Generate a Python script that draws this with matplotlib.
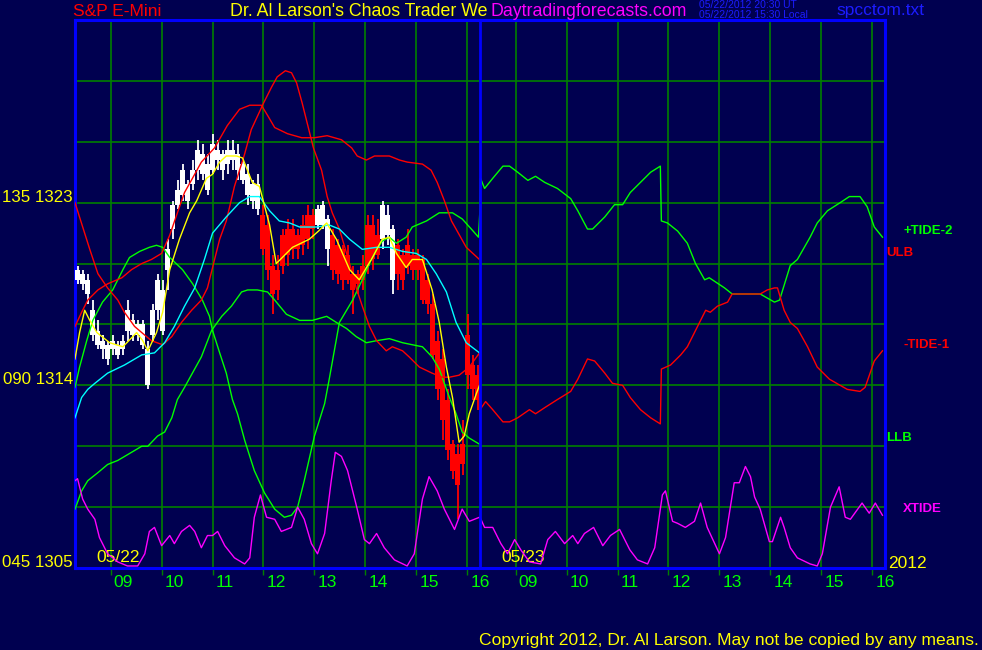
"""S&P E-Mini tide chart (Chaos Trader, 05/22-05/23/2012): 6-min bars for day 1,
price averages, upper/lower bands, two tide curves and the XTIDE cycle curve."""

import matplotlib
matplotlib.use("Agg")
import matplotlib.pyplot as plt
import numpy as np

# Palette.
BG = "#000050"; GRID = "#008000"; FRAME = "#0000ff"
GREEN = "#00ff00"; RED = "#ff0000"; CYAN = "#00ffff"
YELLOW = "#ffff00"; MAGENTA = "#ff00ff"; WHITE = "#ffffff"; BLUE_TXT = "#1c1cff"
plt.rcParams["font.family"] = ["Liberation Sans", "DejaVu Sans"]

W, H = 982, 650                  # output size, px
SESSION_OPEN = 8.30              # clock hour at the left edge of each day panel
SESSION_LEN = 7.95               # hours shown per day
PRICE_LO, PRICE_HI, PRICE_STEP = 1305, 1332, 3

HOURS = [9, 10, 11, 12, 13, 14, 15, 16]
DAYS = ["05/22", "05/23"]
YEAR = "2012"
ANGLES = ["045", "090", "135"]
ANGLE_PRICES = [1305, 1314, 1323]

# ---- day-1 price bars (open, high, low, close), evenly spaced over the session
BAR_OPEN = [1319.2, 1319.0, 1318.5, 1316.5, 1316.0, 1315.8, 1315.3, 1315.8, 1315.5, 1315.8,
            1316.7, 1316.5, 1316.5, 1316.0, 1314.0, 1316.5, 1317.7, 1316.7, 1319.7, 1321.7,
            1322.9, 1323.4, 1323.1, 1323.9, 1324.6, 1324.4, 1323.6, 1324.6, 1325.1, 1324.6,
            1324.9, 1325.1, 1324.6, 1324.1, 1323.4, 1323.1, 1322.7, 1322.4, 1321.9, 1319.9,
            1319.7, 1321.4, 1321.7, 1321.7, 1321.4, 1321.9, 1322.4, 1322.4, 1321.9, 1321.9,
            1320.7, 1321.4, 1320.9, 1320.7, 1320.4, 1319.5, 1319.5, 1319.9, 1321.9, 1321.9,
            1321.4, 1321.2, 1321.4, 1319.2, 1320.9, 1320.4, 1320.9, 1320.4, 1320.4, 1320.2,
            1319.2, 1318.0, 1316.2, 1315.3, 1313.3, 1311.1, 1310.6, 1311.1, 1316.5, 1315.0,
            1314.5]
BAR_HIGH = [1319.9, 1319.7, 1319.5, 1318.2, 1317.2, 1316.5, 1316.2, 1316.5, 1316.2, 1316.5,
            1318.2, 1317.5, 1317.2, 1317.2, 1316.2, 1318.0, 1319.5, 1319.2, 1321.2, 1323.1,
            1324.1, 1324.9, 1324.1, 1325.1, 1326.1, 1325.9, 1325.4, 1326.4, 1326.1, 1325.6,
            1326.1, 1326.1, 1325.9, 1325.1, 1324.9, 1324.1, 1324.4, 1322.9, 1322.4, 1320.4,
            1320.4, 1321.7, 1322.2, 1322.2, 1321.7, 1322.4, 1322.9, 1322.7, 1322.9, 1323.1,
            1322.4, 1321.7, 1321.2, 1320.9, 1320.9, 1319.9, 1319.7, 1320.4, 1322.4, 1322.4,
            1322.2, 1323.1, 1322.9, 1321.9, 1321.2, 1320.7, 1321.7, 1320.7, 1320.7, 1320.4,
            1319.5, 1318.5, 1316.7, 1315.8, 1313.8, 1311.3, 1311.1, 1312.3, 1317.5, 1315.5,
            1315.0]
BAR_LOW = [1319.0, 1318.7, 1318.0, 1316.2, 1315.8, 1315.3, 1315.0, 1315.5, 1315.3, 1315.5,
           1316.2, 1316.2, 1316.2, 1315.8, 1313.8, 1316.2, 1317.2, 1316.5, 1318.7, 1321.2,
           1322.7, 1323.1, 1322.7, 1323.6, 1324.1, 1324.1, 1323.4, 1324.4, 1324.6, 1324.1,
           1324.4, 1324.6, 1324.1, 1323.9, 1322.9, 1322.7, 1322.4, 1320.4, 1319.2, 1317.5,
           1318.2, 1319.5, 1319.9, 1320.2, 1320.2, 1320.4, 1320.7, 1321.2, 1321.7, 1321.7,
           1319.9, 1319.2, 1319.0, 1318.7, 1319.0, 1317.5, 1318.5, 1318.7, 1319.5, 1319.7,
           1320.2, 1320.7, 1320.9, 1318.5, 1318.7, 1318.7, 1319.5, 1319.2, 1319.2, 1318.0,
           1317.5, 1315.3, 1313.3, 1311.3, 1310.3, 1309.4, 1307.4, 1309.6, 1313.8, 1313.3,
           1312.8]
BAR_CLOSE = [1319.7, 1319.5, 1319.2, 1317.7, 1316.7, 1316.2, 1316.0, 1316.2, 1316.0, 1316.2,
             1317.7, 1317.2, 1317.0, 1317.0, 1315.8, 1317.7, 1319.2, 1318.7, 1320.7, 1322.9,
             1323.6, 1324.6, 1323.9, 1324.6, 1325.6, 1325.4, 1324.9, 1325.9, 1325.6, 1325.4,
             1325.6, 1325.6, 1325.4, 1324.9, 1324.4, 1323.9, 1323.9, 1320.7, 1319.7, 1318.5,
             1318.7, 1319.9, 1320.4, 1320.7, 1320.7, 1320.9, 1321.2, 1321.7, 1322.7, 1322.9,
             1322.2, 1319.7, 1319.5, 1319.2, 1319.2, 1318.7, 1319.0, 1319.2, 1319.9, 1320.2,
             1320.4, 1322.9, 1322.4, 1321.7, 1319.5, 1319.2, 1319.9, 1319.7, 1319.7, 1318.2,
             1318.0, 1315.5, 1313.8, 1312.3, 1310.8, 1309.8, 1309.1, 1310.1, 1314.5, 1313.8,
             1313.3]

# ---- day-1 moving averages (clock hour, price)
FAST_T = [8.30, 8.39, 8.49, 8.59, 8.73, 8.98, 9.24, 9.51, 9.63, 9.73, 9.90, 10.02, 10.16,
          10.35, 10.55, 10.69, 10.88, 11.00, 11.14, 11.27, 11.47, 11.59, 11.78, 11.92, 12.12,
          12.25, 12.37, 12.57, 12.90, 13.08, 13.24, 13.43, 13.69, 13.88, 14.02, 14.14, 14.33,
          14.47, 14.61, 14.80, 14.92, 15.12, 15.31, 15.45, 15.59, 15.71, 15.84, 15.94, 16.04,
          16.18, 16.24]
FAST_V = [1315.3, 1316.6, 1317.7, 1317.2, 1316.6, 1316.1, 1315.9, 1316.6, 1316.2, 1315.7,
          1316.6, 1317.6, 1319.7, 1321.2, 1322.5, 1323.1, 1324.2, 1324.4, 1325.0, 1325.3,
          1325.3, 1325.2, 1324.0, 1323.8, 1321.9, 1320.0, 1320.3, 1320.8, 1321.2, 1321.6,
          1322.0, 1321.2, 1319.7, 1319.2, 1319.8, 1320.3, 1321.2, 1321.3, 1320.5, 1319.8,
          1320.2, 1320.2, 1318.7, 1317.1, 1314.9, 1313.4, 1311.2, 1311.5, 1312.6, 1313.6,
          1314.0]
SLOW_T = [8.30, 8.43, 8.55, 8.69, 8.94, 9.27, 9.61, 9.86, 10.06, 10.25, 10.45, 10.65, 10.84,
          11.00, 11.27, 11.53, 11.73, 11.92, 12.12, 12.31, 12.51, 12.71, 13.04, 13.29, 13.49,
          13.69, 13.94, 14.22, 14.47, 14.73, 15.00, 15.20, 15.39, 15.59, 15.78, 15.98, 16.24]
SLOW_V = [1312.4, 1313.4, 1313.8, 1314.1, 1314.6, 1315.0, 1315.5, 1315.6, 1316.1, 1316.9,
          1317.9, 1318.8, 1320.2, 1321.5, 1322.3, 1323.0, 1323.3, 1323.3, 1322.6, 1322.1,
          1322.0, 1321.8, 1321.8, 1321.9, 1321.7, 1321.2, 1320.7, 1320.8, 1320.8, 1320.6,
          1320.5, 1320.2, 1319.5, 1318.6, 1317.1, 1316.1, 1315.6]

# ---- day-1 upper / lower bands
ULB_T = [8.30, 8.43, 8.55, 8.75, 8.94, 9.22, 9.41, 9.61, 9.80, 10.00, 10.16, 10.31, 10.45,
         10.65, 10.78, 11.04, 11.29, 11.53, 11.73, 11.96, 12.08, 12.22, 12.47, 12.75, 13.00,
         13.25, 13.53, 13.73, 13.84, 14.02, 14.18, 14.47, 14.67, 14.82, 15.12, 15.29, 15.41,
         15.55, 15.69, 15.78, 15.98, 16.24]
ULB_V = [1316.9, 1317.6, 1318.2, 1318.7, 1319.0, 1319.3, 1319.7, 1320.0, 1320.2, 1320.5,
         1321.4, 1322.5, 1323.5, 1324.4, 1325.0, 1325.7, 1326.8, 1327.6, 1327.8, 1327.8,
         1327.3, 1326.7, 1326.4, 1326.2, 1326.2, 1326.3, 1326.1, 1325.7, 1325.3, 1325.1,
         1325.3, 1325.3, 1325.1, 1325.0, 1324.9, 1324.6, 1324.0, 1323.1, 1322.1, 1321.7,
         1320.8, 1320.2]
LLB_T = [8.30, 8.43, 8.55, 8.75, 8.94, 9.14, 9.41, 9.61, 9.73, 9.92, 10.06, 10.20, 10.31,
         10.45, 10.78, 10.98, 11.18, 11.37, 11.57, 11.69, 11.88, 12.08, 12.22, 12.45, 12.71,
         12.96, 13.24, 13.43, 13.63, 13.82, 14.02, 14.22, 14.47, 14.73, 14.92, 15.12, 15.31,
         15.45, 15.65, 15.78, 15.90, 16.04, 16.24]
LLB_V = [1307.9, 1308.8, 1309.3, 1309.7, 1310.1, 1310.3, 1310.7, 1311.0, 1311.0, 1311.5,
         1311.7, 1312.4, 1313.3, 1313.9, 1315.4, 1316.7, 1317.4, 1317.9, 1318.6, 1318.7,
         1318.7, 1318.6, 1318.2, 1317.5, 1317.2, 1317.2, 1317.4, 1317.1, 1316.8, 1316.4,
         1316.1, 1316.2, 1316.3, 1316.1, 1316.0, 1315.9, 1315.4, 1314.8, 1313.4, 1312.6,
         1311.7, 1311.4, 1311.1]

# ---- tide curves, both days
TIDE1_D1_T = [8.30, 8.59, 8.75, 8.94, 9.14, 9.27, 9.47, 9.61, 9.80, 10.02, 10.20, 10.39, 10.59,
              10.78, 10.90, 11.00, 11.14, 11.27, 11.43, 11.63, 11.76, 12.00, 12.16, 12.27,
              12.43, 12.55, 12.65, 12.76, 12.86, 12.98, 13.14, 13.25, 13.35, 13.49, 13.69,
              13.82, 13.94, 14.08, 14.22, 14.41, 14.53, 14.73, 14.86, 15.06, 15.31, 15.51,
              15.65, 15.84, 16.04, 16.24]
TIDE1_D1_V = [1323.0, 1320.7, 1319.5, 1318.8, 1318.2, 1317.6, 1316.9, 1316.6, 1316.2, 1316.0,
              1316.4, 1317.1, 1317.7, 1318.2, 1318.8, 1319.8, 1321.2, 1322.1, 1323.8, 1325.4,
              1326.6, 1327.9, 1328.7, 1329.2, 1329.5, 1329.4, 1328.9, 1327.9, 1326.9, 1325.7,
              1324.6, 1323.3, 1322.5, 1321.7, 1320.0, 1318.8, 1317.9, 1316.9, 1316.2, 1315.7,
              1315.9, 1315.7, 1315.4, 1314.9, 1314.6, 1314.4, 1314.4, 1314.5, 1314.9, 1315.6]
TIDE1_D2_T = [8.30, 8.41, 8.55, 8.75, 8.88, 9.04, 9.27, 9.39, 9.57, 9.82, 10.08, 10.22, 10.41,
              10.55, 10.75, 10.90, 11.10, 11.25, 11.45, 11.65, 11.84, 11.86, 12.04, 12.24,
              12.37, 12.53, 12.73, 12.82, 12.96, 13.16, 13.25, 13.80, 13.94, 14.08, 14.14,
              14.27, 14.39, 14.53, 14.73, 14.92, 15.16, 15.51, 15.76, 15.86, 16.04, 16.20]
TIDE1_D2_V = [1312.8, 1313.2, 1312.8, 1312.2, 1312.2, 1312.4, 1312.8, 1312.6, 1312.9, 1313.3,
              1313.7, 1314.3, 1315.3, 1315.2, 1314.6, 1314.1, 1314.0, 1313.4, 1312.8, 1312.4,
              1312.1, 1314.8, 1315.0, 1315.5, 1315.9, 1316.7, 1317.7, 1317.6, 1317.9, 1318.1,
              1318.5, 1318.5, 1318.7, 1318.8, 1318.8, 1317.7, 1317.1, 1316.8, 1315.9, 1314.9,
              1314.3, 1313.8, 1313.7, 1313.9, 1315.2, 1315.7]
TIDE2_D1_T = [8.30, 8.39, 8.53, 8.65, 8.84, 9.04, 9.24, 9.37, 9.57, 9.76, 9.90, 10.02, 10.16,
              10.41, 10.61, 10.80, 10.94, 11.00, 11.14, 11.27, 11.39, 11.49, 11.63, 11.82,
              12.02, 12.22, 12.41, 12.55, 12.67, 12.80, 13.00, 13.20, 13.29, 13.49, 13.75,
              13.94, 14.08, 14.22, 14.33, 14.47, 14.61, 14.80, 14.92, 15.20, 15.45, 15.71,
              15.90, 16.08, 16.22]
TIDE2_D1_V = [1313.9, 1314.9, 1316.2, 1317.2, 1318.1, 1318.7, 1319.7, 1320.3, 1320.6, 1320.8,
              1320.9, 1320.8, 1320.3, 1319.7, 1319.0, 1318.2, 1317.4, 1316.7, 1315.6, 1314.6,
              1313.3, 1312.6, 1311.3, 1309.8, 1308.7, 1307.9, 1307.5, 1307.6, 1308.0, 1309.3,
              1311.5, 1313.1, 1314.3, 1317.1, 1318.2, 1319.2, 1320.0, 1320.7, 1321.1, 1321.3,
              1321.0, 1321.3, 1321.8, 1322.1, 1322.5, 1322.5, 1322.2, 1321.7, 1321.3]
TIDE2_D2_T = [8.30, 8.31, 8.39, 8.55, 8.75, 8.88, 9.04, 9.24, 9.39, 9.57, 9.82, 10.08, 10.22,
              10.41, 10.51, 10.75, 10.94, 11.10, 11.25, 11.45, 11.65, 11.84, 11.86, 11.98,
              12.18, 12.37, 12.53, 12.71, 12.80, 13.10, 13.25, 13.80, 14.08, 14.18, 14.39,
              14.53, 14.78, 14.92, 15.12, 15.37, 15.55, 15.76, 15.90, 16.04, 16.20]
TIDE2_D2_V = [1322.7, 1324.2, 1323.7, 1324.2, 1324.8, 1324.8, 1324.5, 1324.1, 1324.3, 1324.0,
              1323.7, 1323.2, 1322.6, 1321.7, 1321.7, 1322.3, 1322.9, 1322.9, 1323.5, 1324.0,
              1324.5, 1324.8, 1322.1, 1322.0, 1321.6, 1321.0, 1320.0, 1319.2, 1319.3, 1318.8,
              1318.5, 1318.5, 1318.1, 1318.2, 1319.9, 1320.2, 1321.3, 1322.0, 1322.6, 1323.0,
              1323.3, 1323.3, 1322.8, 1321.8, 1321.3]
XT_D1_T = [8.30, 8.35, 8.45, 8.55, 8.69, 8.78, 8.94, 9.14, 9.33, 9.53, 9.67, 9.76, 9.86, 10.00,
           10.16, 10.25, 10.39, 10.55, 10.65, 10.78, 10.90, 11.00, 11.10, 11.24, 11.43, 11.63,
           11.73, 11.82, 11.94, 12.06, 12.22, 12.35, 12.55, 12.67, 12.80, 12.94, 13.06, 13.20,
           13.33, 13.41, 13.53, 13.65, 13.84, 13.98, 14.08, 14.22, 14.37, 14.57, 14.82, 14.96,
           15.12, 15.25, 15.41, 15.55, 15.75, 15.90, 16.04, 16.24]
XT_D1_V = [1309.3, 1309.4, 1308.4, 1307.9, 1307.4, 1306.5, 1305.7, 1305.3, 1305.1, 1305.1,
           1305.7, 1306.8, 1307.0, 1306.1, 1306.6, 1306.2, 1306.8, 1307.1, 1306.8, 1306.0,
           1306.6, 1306.6, 1306.8, 1306.1, 1305.5, 1305.2, 1305.5, 1307.5, 1308.6, 1307.5,
           1307.4, 1306.8, 1307.0, 1308.0, 1307.4, 1306.2, 1305.7, 1306.7, 1309.3, 1310.7,
           1310.5, 1309.8, 1307.9, 1306.4, 1306.2, 1306.7, 1306.0, 1305.4, 1305.1, 1305.7,
           1308.4, 1309.5, 1308.8, 1307.9, 1306.9, 1307.9, 1307.3, 1307.5]
XT_D2_T = [8.30, 8.39, 8.55, 8.71, 8.84, 8.98, 9.10, 9.27, 9.49, 9.63, 9.78, 9.96, 10.12, 10.22,
           10.35, 10.53, 10.71, 10.86, 11.04, 11.24, 11.39, 11.59, 11.73, 11.88, 11.94, 12.08,
           12.18, 12.33, 12.51, 12.63, 12.76, 13.00, 13.12, 13.29, 13.39, 13.51, 13.61, 13.69,
           13.80, 13.98, 14.04, 14.20, 14.27, 14.39, 14.53, 14.78, 14.92, 15.02, 15.18, 15.35,
           15.47, 15.57, 15.80, 15.94, 16.06, 16.20]
XT_D2_V = [1307.5, 1307.0, 1307.0, 1306.2, 1305.7, 1306.4, 1305.9, 1305.3, 1305.2, 1306.4,
           1306.8, 1306.2, 1306.6, 1306.2, 1306.7, 1307.0, 1306.1, 1306.6, 1306.9, 1305.9,
           1305.4, 1305.2, 1306.0, 1308.6, 1308.8, 1307.3, 1307.2, 1307.0, 1307.3, 1308.2,
           1307.0, 1305.7, 1306.5, 1309.2, 1309.2, 1310.0, 1309.5, 1308.5, 1307.9, 1306.3,
           1306.3, 1307.5, 1307.0, 1306.0, 1305.5, 1305.2, 1305.1, 1305.7, 1308.0, 1309.0,
           1307.5, 1307.4, 1308.2, 1307.7, 1308.2, 1307.6]


def pos(day, hours):
    """Clock hour on a given day -> position on the two-day axis."""
    return day * SESSION_LEN + np.asarray(hours, dtype=float) - SESSION_OPEN


def two_day(t1, v1, t2, v2):
    return np.concatenate([pos(0, t1), pos(1, t2)]), np.concatenate([v1, v2])


def ftext(x, y, s, **kw):
    """Figure text placed in output pixels (origin top-left)."""
    fig.text(x / W, 1 - y / H, s, **kw)


fig = plt.figure(figsize=(W / 100, H / 100), dpi=100, facecolor=BG)
ax = fig.add_axes([75 / W, (H - 568) / H, 810 / W, 548 / H])
ax.set_facecolor(BG)
ax.set_xlim(0, 2 * SESSION_LEN)
ax.set_ylim(PRICE_LO, PRICE_HI)

# grid
hour_pos = [pos(d, h) for d in range(2) for h in HOURS]
for x in hour_pos:
    ax.axvline(x, color=GRID, lw=1.2, zorder=1)
for p in range(PRICE_LO + PRICE_STEP, PRICE_HI, PRICE_STEP):
    ax.axhline(p, color=GRID, lw=1.2, zorder=1)
ax.axvline(SESSION_LEN, color=FRAME, lw=2.0, zorder=8)
for sp in ax.spines.values():
    sp.set_color(FRAME); sp.set_linewidth(2.2)
ax.set_xticks(hour_pos)
ax.set_yticks([])
ax.tick_params(axis="x", length=5, width=1, color=GRID, labelbottom=False)

# day-1 bars
n = len(BAR_OPEN)
step = SESSION_LEN / n
bx = (np.arange(n) + 0.5) * step
o, c = np.array(BAR_OPEN), np.array(BAR_CLOSE)
cols = [WHITE if cc >= oo else RED for oo, cc in zip(o, c)]
ax.vlines(bx, BAR_LOW, BAR_HIGH, colors=cols, lw=1.3, zorder=3)
ax.bar(bx, c - o, bottom=o, width=step * 0.9, color=cols, lw=0, zorder=3)

# indicator lines
lw = 1.0
ax.plot(pos(0, LLB_T), LLB_V, color=GREEN, lw=lw, zorder=4)
ax.plot(*two_day(TIDE2_D1_T, TIDE2_D1_V, TIDE2_D2_T, TIDE2_D2_V), color=GREEN, lw=lw, zorder=4)
ax.plot(pos(0, ULB_T), ULB_V, color=RED, lw=lw, zorder=4)
ax.plot(*two_day(TIDE1_D1_T, TIDE1_D1_V, TIDE1_D2_T, TIDE1_D2_V), color=RED, lw=lw, zorder=4)
ax.plot(*two_day(XT_D1_T, XT_D1_V, XT_D2_T, XT_D2_V), color=MAGENTA, lw=lw, zorder=4)
ax.plot(pos(0, SLOW_T), SLOW_V, color=CYAN, lw=lw, zorder=5)
ax.plot(pos(0, FAST_T), FAST_V, color=YELLOW, lw=lw, zorder=6)

# hour labels under the axis
for d in range(2):
    for h in HOURS:
        ax.annotate(f"{h:02d}", (pos(d, h), 0), xycoords=("data", "axes fraction"),
                    xytext=(3, -7), textcoords="offset pixels", ha="left", va="top",
                    color=GREEN, fontsize=12.5)
    ax.annotate(DAYS[d], (pos(d, SESSION_OPEN), PRICE_LO), xytext=(21, 10),
                textcoords="offset pixels", ha="left", va="center", color=YELLOW, fontsize=12.5)

# angle / price labels on the left
for a, p in zip(ANGLES, ANGLE_PRICES):
    ax.annotate(f"{a} {p}", (0, p), xycoords=("axes fraction", "data"), xytext=(-2, 1),
                textcoords="offset pixels", ha="right", va="baseline", color=YELLOW,
                fontsize=12.2)

# series names at their closing values
for name, last, color, dx in (("+TIDE-2", TIDE2_D2_V[-1], GREEN, 18),
                              ("ULB", ULB_V[-1], RED, 1),
                              ("-TIDE-1", TIDE1_D2_V[-1], RED, 18),
                              ("LLB", LLB_V[-1], GREEN, 1),
                              ("XTIDE", XT_D2_V[-1], MAGENTA, 18)):
    ax.annotate(name, (1, last), xycoords=("axes fraction", "data"), xytext=(dx, 6),
                textcoords="offset pixels", ha="left", va="center", color=color,
                fontsize=9.5, fontweight="bold", annotation_clip=False)

ftext(888, 563, YEAR, color=YELLOW, fontsize=12.5, va="center")

# header
ftext(73, 11, "S&P E-Mini", color=RED, fontsize=12.5, va="center")
ftext(230, 11, "Dr. Al Larson's Chaos Trader We", color=YELLOW, fontsize=12.8, va="center")
ftext(490, 11, "Daytradingforecasts.com", color=MAGENTA, fontsize=12.8, va="center")
ftext(699, 5, "05/22/2012 20:30 UT", color=BLUE_TXT, fontsize=7.5, va="center")
ftext(699, 15, "05/22/2012 15:30 Local", color=BLUE_TXT, fontsize=7.5, va="center")
ftext(836, 11, "spcctom.txt", color=BLUE_TXT, fontsize=12.5, va="center")

ftext(979, 640, "Copyright 2012, Dr. Al Larson. May not be copied by any means.",
      color=YELLOW, fontsize=12.6, ha="right", va="center")

fig.savefig("out.png", dpi=100, facecolor=BG)
